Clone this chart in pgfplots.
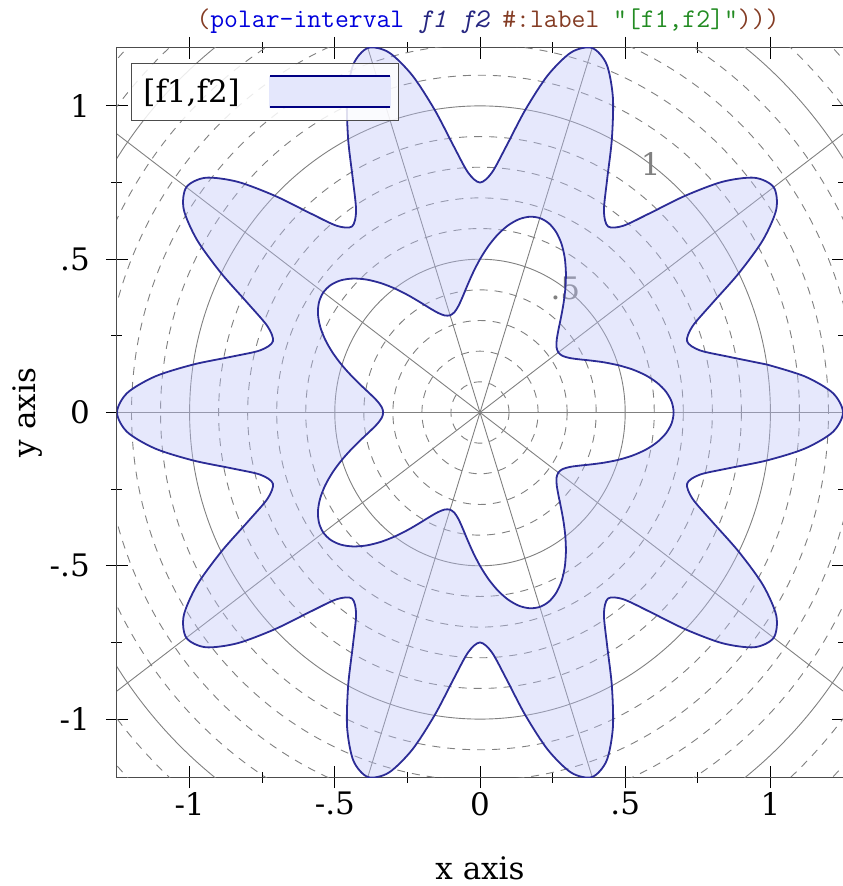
\documentclass[border=0pt]{standalone}
\usepackage{fontspec}
\setmainfont{DejaVu Serif}
\usepackage{pgfplots}
\pgfplotsset{compat=1.18}

\definecolor{ringfill}{RGB}{188,194,248}
\definecolor{ringline}{RGB}{44,44,150}
\definecolor{legline}{RGB}{0,0,130}
\definecolor{legfill}{RGB}{228,231,252}
\definecolor{rktparen}{RGB}{132,60,36}
\definecolor{rktid}{RGB}{0,0,220}
\definecolor{rktvar}{RGB}{38,38,128}
\definecolor{rktstr}{RGB}{34,139,34}
\newcommand\bigtext{\fontsize{31bp}{37bp}\selectfont}

\tikzset{
  polgrid/.style={black!50, line width=0.9bp},
  poldash/.style={black!50, line width=0.9bp, dash pattern=on 8bp off 7bp},
}

\begin{document}
\begin{tikzpicture}
\begin{axis}[
  name=ax,
  scale only axis,
  width=726bp, height=729bp,
  xmin=-1.25, xmax=1.25,
  ymin=-1.18882, ymax=1.18882,
  xtick={-1,-0.5,0,0.5,1},
  xticklabels={-1,-.5,0,.5,1},
  ytick={-1,-0.5,0,0.5,1},
  yticklabels={-1,-.5,0,.5,1},
  minor xtick={-0.75,-0.25,0.25,0.75},
  minor ytick={-0.75,-0.25,0.25,0.75},
  tick align=center,
  major tick length=22bp,
  minor tick length=11bp,
  every tick/.style={black, line width=1bp},
  axis line style={black!70, line width=1bp},
  xticklabel style={font=\bigtext, anchor=north, inner sep=0pt, yshift=-4bp},
  yticklabel style={font=\bigtext, anchor=east, inner sep=0pt, xshift=-16bp},
  empty line=jump,
  legend plot pos=right,
  legend cell align=left,
  legend style={at={(axis description cs:0.0193,0.9794)}, anchor=north west,
    draw=black!70, line width=0.8bp, fill=white, fill opacity=0.85,
    text opacity=1, inner xsep=8bp, inner ysep=12bp, font=\bigtext,
    nodes={inner sep=4bp}, /tikz/column sep=25bp},
  legend image code/.code={
    \fill[legfill, fill opacity=1] (0bp,-15.5bp) rectangle (120bp,15.5bp);
    \draw[legline, line width=2bp, draw opacity=1]
      (0bp,-15.5bp) -- (120bp,-15.5bp) (0bp,15.5bp) -- (120bp,15.5bp);
  },
]
% polar grid: circles every 0.1, solid every 0.5
\draw[poldash] (axis cs:0,0) circle[radius=0.1];
\draw[poldash] (axis cs:0,0) circle[radius=0.2];
\draw[poldash] (axis cs:0,0) circle[radius=0.3];
\draw[poldash] (axis cs:0,0) circle[radius=0.4];
\draw[polgrid] (axis cs:0,0) circle[radius=0.5];
\draw[poldash] (axis cs:0,0) circle[radius=0.6];
\draw[poldash] (axis cs:0,0) circle[radius=0.7];
\draw[poldash] (axis cs:0,0) circle[radius=0.8];
\draw[poldash] (axis cs:0,0) circle[radius=0.9];
\draw[polgrid] (axis cs:0,0) circle[radius=1.0];
\draw[poldash] (axis cs:0,0) circle[radius=1.1];
\draw[poldash] (axis cs:0,0) circle[radius=1.2];
\draw[poldash] (axis cs:0,0) circle[radius=1.3];
\draw[poldash] (axis cs:0,0) circle[radius=1.4];
\draw[polgrid] (axis cs:0,0) circle[radius=1.5];
\draw[poldash] (axis cs:0,0) circle[radius=1.6];
\draw[poldash] (axis cs:0,0) circle[radius=1.7];
% radial lines every 36 degrees
\draw[polgrid] (axis cs:-2,0) -- (axis cs:2,0);
\draw[polgrid] (axis cs:-1.618,-1.1756) -- (axis cs:1.618,1.1756);
\draw[polgrid] (axis cs:-0.618,-1.902) -- (axis cs:0.618,1.902);
\draw[polgrid] (axis cs:0.618,-1.902) -- (axis cs:-0.618,1.902);
\draw[polgrid] (axis cs:1.618,-1.1756) -- (axis cs:-1.618,1.1756);
\node[text=black!50, font=\bigtext] at (axis cs:0.5878,0.8090) {1};
\node[text=black!50, font=\bigtext] at (axis cs:0.2939,0.4045) {.5};

% outer loop r = f2(t), blank line, inner loop r = f1(t); t in degrees
\addplot[smooth, draw=ringline, line width=1.8bp, fill=ringfill,
  fill opacity=0.375, even odd rule]
  table[x expr=\thisrow{r}*cos(\thisrow{t}), y expr=\thisrow{r}*sin(\thisrow{t})] {
t r
9 1
12 0.875
15 0.783494
18 0.75
21 0.783494
24 0.875
27 1
30 1.125
33 1.216506
36 1.25
39 1.216506
42 1.125
45 1
48 0.875
51 0.783494
54 0.75
57 0.783494
60 0.875
63 1
66 1.125
69 1.216506
72 1.25
75 1.216506
78 1.125
81 1
84 0.875
87 0.783494
90 0.75
93 0.783494
96 0.875
99 1
102 1.125
105 1.216506
108 1.25
111 1.216506
114 1.125
117 1
120 0.875
123 0.783494
126 0.75
129 0.783494
132 0.875
135 1
138 1.125
141 1.216506
144 1.25
147 1.216506
150 1.125
153 1
156 0.875
159 0.783494
162 0.75
165 0.783494
168 0.875
171 1
174 1.125
177 1.216506
180 1.25
183 1.216506
186 1.125
189 1
192 0.875
195 0.783494
198 0.75
201 0.783494
204 0.875
207 1
210 1.125
213 1.216506
216 1.25
219 1.216506
222 1.125
225 1
228 0.875
231 0.783494
234 0.75
237 0.783494
240 0.875
243 1
246 1.125
249 1.216506
252 1.25
255 1.216506
258 1.125
261 1
264 0.875
267 0.783494
270 0.75
273 0.783494
276 0.875
279 1
282 1.125
285 1.216506
288 1.25
291 1.216506
294 1.125
297 1
300 0.875
303 0.783494
306 0.75
309 0.783494
312 0.875
315 1
318 1.125
321 1.216506
324 1.25
327 1.216506
330 1.125
333 1
336 0.875
339 0.783494
342 0.75
345 0.783494
348 0.875
351 1
354 1.125
357 1.216506
360 1.25
363 1.216506
366 1.125
369 1

18 0.5
21 0.456863
24 0.416667
27 0.382149
30 0.355662
33 0.339012
36 0.333333
39 0.339012
42 0.355662
45 0.382149
48 0.416667
51 0.456863
54 0.5
57 0.543137
60 0.583333
63 0.617851
66 0.644338
69 0.660988
72 0.666667
75 0.660988
78 0.644338
81 0.617851
84 0.583333
87 0.543137
90 0.5
93 0.456863
96 0.416667
99 0.382149
102 0.355662
105 0.339012
108 0.333333
111 0.339012
114 0.355662
117 0.382149
120 0.416667
123 0.456863
126 0.5
129 0.543137
132 0.583333
135 0.617851
138 0.644338
141 0.660988
144 0.666667
147 0.660988
150 0.644338
153 0.617851
156 0.583333
159 0.543137
162 0.5
165 0.456863
168 0.416667
171 0.382149
174 0.355662
177 0.339012
180 0.333333
183 0.339012
186 0.355662
189 0.382149
192 0.416667
195 0.456863
198 0.5
201 0.543137
204 0.583333
207 0.617851
210 0.644338
213 0.660988
216 0.666667
219 0.660988
222 0.644338
225 0.617851
228 0.583333
231 0.543137
234 0.5
237 0.456863
240 0.416667
243 0.382149
246 0.355662
249 0.339012
252 0.333333
255 0.339012
258 0.355662
261 0.382149
264 0.416667
267 0.456863
270 0.5
273 0.543137
276 0.583333
279 0.617851
282 0.644338
285 0.660988
288 0.666667
291 0.660988
294 0.644338
297 0.617851
300 0.583333
303 0.543137
306 0.5
309 0.456863
312 0.416667
315 0.382149
318 0.355662
321 0.339012
324 0.333333
327 0.339012
330 0.355662
333 0.382149
336 0.416667
339 0.456863
342 0.5
345 0.543137
348 0.583333
351 0.617851
354 0.644338
357 0.660988
360 0.666667
363 0.660988
366 0.644338
369 0.617851
372 0.583333
375 0.543137
378 0.5
};
\addlegendentry{\relax[f1,f2]}
\end{axis}
\node[font=\bigtext, anchor=base] at ([yshift=-102bp]ax.south) {x axis};
\node[font=\bigtext, anchor=base, rotate=90] at ([xshift=-81.5bp]ax.west) {y axis};
\node[anchor=base, font=\ttfamily\fontsize{26.9bp}{31bp}\selectfont]
  at ([xshift=8bp,yshift=20bp]ax.north)
  {\textcolor{rktparen}{(}\textcolor{rktid}{polar-interval}
   \textcolor{rktvar}{\itshape f1} \textcolor{rktvar}{\itshape f2}
   \textcolor{rktparen}{\#:label} \textcolor{rktstr}{"[f1,f2]"}\textcolor{rktparen}{)))}};
\pgfresetboundingbox
\path ([xshift=-117bp,yshift=-109bp]ax.south west) rectangle ([yshift=48bp]ax.north east);
\end{tikzpicture}
\end{document}
